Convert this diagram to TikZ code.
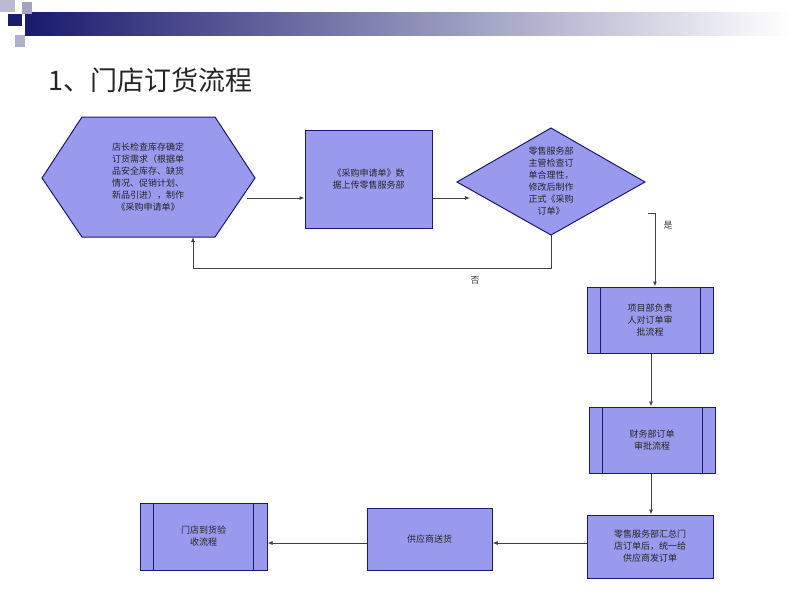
\documentclass[tikz,border=0pt]{standalone}
\usepackage{fontspec}
\newfontfamily\cjk{Noto Sans CJK SC}
\usetikzlibrary{arrows.meta}
\definecolor{fillb}{HTML}{9999EE}
\definecolor{navy}{HTML}{1A1A6E}
\begin{document}
\begin{tikzpicture}[x=1pt,y=-1pt,
  shp/.style={fill=fillb,draw=navy,line width=1pt},
  txt/.style={font=\cjk\fontsize{9}{12}\selectfont,align=center,text=black!85},
  arr/.style={draw=black!75,line width=1pt,-{Latex[length=5pt,width=4pt]}},
  lab/.style={font=\cjk\fontsize{9}{11}\selectfont,text=black!75}]
\useasboundingbox (0,0) rectangle (800,600);
\fill[white] (0,0) rectangle (800,600);
% header
\shade[left color=navy,right color=white] (25,12) rectangle (790,35);
\fill[navy!30] (0,0) rectangle (15,12);
\fill[navy] (8,14) rectangle (22,26);
\fill[navy!40] (22,2) rectangle (32,14);
\fill[navy!35] (15,35) rectangle (25,47);
\node[font=\cjk\fontsize{27}{30}\selectfont,anchor=west,text=black!85] (title) at (45,80) {1、门店订货流程};
% hexagon
\draw[shp] (42,178) -- (82,117) -- (215,117) -- (255,178) -- (215,237) -- (82,237) -- cycle;
\node[txt] (hex) at (148,177) {店长检查库存确定\\订货需求（根据单\\品安全库存、缺货\\情况、促销计划、\\新品引进），制作\\《采购申请单》};
\coordinate (hexR) at (247,198);
\coordinate (hexB) at (193,237);
\node[shp,minimum width=127pt,minimum height=98pt,inner sep=0pt] (r2) at (368.5,179) {};
\node[txt] at (r2) {《采购申请单》数\\据上传零售服务部};
\draw[shp] (457,182) -- (551,128) -- (645,182) -- (551,235) -- cycle;
\node[txt] (dia) at (551,181) {零售服务部\\主管检查订\\单合理性，\\修改后制作\\正式《采购\\订单》};
\coordinate (diaL) at (470,198);
\coordinate (diaR) at (648,213);
\coordinate (diaB) at (551,235);
% predefined process boxes
\node[shp,minimum width=126pt,minimum height=66pt,inner sep=0pt] (b3) at (650,320) {};
\draw[navy,line width=1pt] (600,287) -- (600,353) (700,287) -- (700,353);
\node[txt] at (b3) {项目部负责\\人对订单审\\批流程};
\node[shp,minimum width=126pt,minimum height=66pt,inner sep=0pt] (b4) at (652,440) {};
\draw[navy,line width=1pt] (602,407) -- (602,473) (702,407) -- (702,473);
\node[txt] at (b4) {财务部订单\\审批流程};
\node[shp,minimum width=126pt,minimum height=63pt,inner sep=0pt] (b5) at (650,546.5) {};
\node[txt] at (b5) {零售服务部汇总门\\店订单后，统一给\\供应商发订单};
\node[shp,minimum width=125pt,minimum height=62pt,inner sep=0pt] (b6) at (429.5,539) {};
\node[txt] at (b6) {供应商送货};
\node[shp,minimum width=127pt,minimum height=67pt,inner sep=0pt] (b7) at (203.5,536.5) {};
\draw[navy,line width=1pt] (153,503) -- (153,570) (253,503) -- (253,570);
\node[txt] at (b7) {门店到货验\\收流程};
% connectors
\draw[arr] (hexR) -- (r2.west |- hexR);
\draw[arr] (r2.east |- diaL) -- (diaL);
\draw[arr] (diaR) -- (655,213) -- (b3.north -| 655,0);
\node[lab] (yes) at (668,225) {是};
\draw[arr] (diaB) -- (551,268) -- (193,268) -- (hexB);
\node[lab] (no) at (475,280) {否};
\draw[arr] (b3.south -| 651,0) -- (b4.north -| 651,0);
\draw[arr] (b4.south -| 651,0) -- (b5.north -| 651,0);
\draw[arr] (b5.west |- 0,543) -- (b6.east |- 0,543);
\draw[arr] (b6.west |- 0,543) -- (b7.east |- 0,543);
\end{tikzpicture}
\end{document}
